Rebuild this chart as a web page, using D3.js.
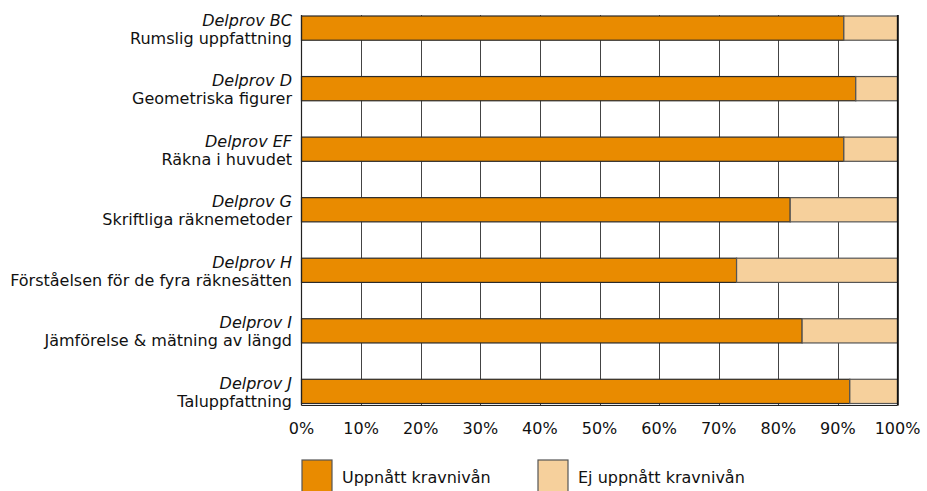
<!DOCTYPE html>
<html><head><meta charset="utf-8">
<script src="https://cdn.jsdelivr.net/npm/d3@7"></script>
<style>body{margin:0;background:#fff}svg{display:block}text{font-family:"DejaVu Sans",Verdana,sans-serif;fill:#111}</style>
</head><body><svg id="c" width="927" height="491"></svg>
<script>
const delprov = ["Delprov BC","Delprov D","Delprov EF","Delprov G","Delprov H","Delprov I","Delprov J"];
const names = ["Rumslig uppfattning","Geometriska figurer","Räkna i huvudet","Skriftliga räknemetoder","Förståelsen för de fyra räknesätten","Jämförelse & mätning av längd","Taluppfattning"];
const achieved = [91,93,91,82,73,84,92];
const notAchieved = achieved.map(v => 100 - v);
const ticks = [0,10,20,30,40,50,60,70,80,90,100];
const seriesNames = ["Uppnått kravnivån","Ej uppnått kravnivån"];
const colors = ["#E98B00","#F6D09C"];

const svg = d3.select("#c");
const L = 301.5, R = 897.5, T = 15, B = 405.5;
const FS = 16;
const x = d3.scaleLinear().domain([0,100]).range([L,R]);
const y = d3.scaleBand().domain(delprov).range([16, 403.5]).paddingInner(0.6).paddingOuter(0);

// gridlines
svg.append("g").selectAll("line").data(ticks.slice(1)).join("line")
  .attr("x1", d => Math.round(x(d))+0.5).attr("x2", d => Math.round(x(d))+0.5)
  .attr("y1", T).attr("y2", B)
  .attr("stroke", "#444").attr("stroke-width", 1);

// bars
const data = delprov.map((d,i) => ({key:d, a:achieved[i], n:notAchieved[i]}));
const g = svg.append("g");
g.selectAll("rect.a").data(data).join("rect").attr("class","a")
  .attr("x", x(0)).attr("width", d => x(d.a)-x(0))
  .attr("y", d => y(d.key)).attr("height", y.bandwidth())
  .attr("fill", colors[0]).attr("stroke", "#2a2a2a").attr("stroke-width", 1.2);
g.selectAll("rect.n").data(data).join("rect").attr("class","n")
  .attr("x", d => x(d.a)).attr("width", d => x(d.a + d.n)-x(d.a))
  .attr("y", d => y(d.key)).attr("height", y.bandwidth())
  .attr("fill", colors[1]).attr("stroke", "#555").attr("stroke-width", 1.2);

// axes lines
svg.append("line").attr("x1", L).attr("x2", L).attr("y1", T).attr("y2", B).attr("stroke","#222").attr("stroke-width",1.2);
svg.append("line").attr("x1", L).attr("x2", R).attr("y1", B).attr("y2", B).attr("stroke","#222").attr("stroke-width",1.2);
svg.append("line").attr("x1", R).attr("x2", R).attr("y1", T).attr("y2", B).attr("stroke","#111").attr("stroke-width",1.2);

// x tick labels
svg.append("g").selectAll("text").data(ticks).join("text")
  .attr("x", d => x(d)).attr("y", 434).attr("text-anchor","middle")
  .attr("font-size", FS).text(d => d + "%");

// y labels
const yl = svg.append("g").selectAll("g").data(data).join("g")
  .attr("transform", d => `translate(292,${y(d.key)+y.bandwidth()/2})`);
yl.append("text").attr("y", -2.5).attr("text-anchor","end").attr("font-size",FS)
  .attr("font-style","italic").text(d => d.key);
yl.append("text").attr("y", 15.5).attr("text-anchor","end").attr("font-size",FS)
  .text((d,i) => names[i]);

// legend
const lx = [302, 538];
const lg = svg.append("g").selectAll("g").data(seriesNames).join("g")
  .attr("transform", (d,i) => `translate(${lx[i]},460)`);
lg.append("rect").attr("width", 30).attr("height", 32).attr("fill", (d,i) => colors[i]).attr("stroke","#555").attr("stroke-width",1.2);
lg.append("text").attr("x", 40).attr("y", 23).attr("font-size",FS).text(d => d);
</script></body></html>
